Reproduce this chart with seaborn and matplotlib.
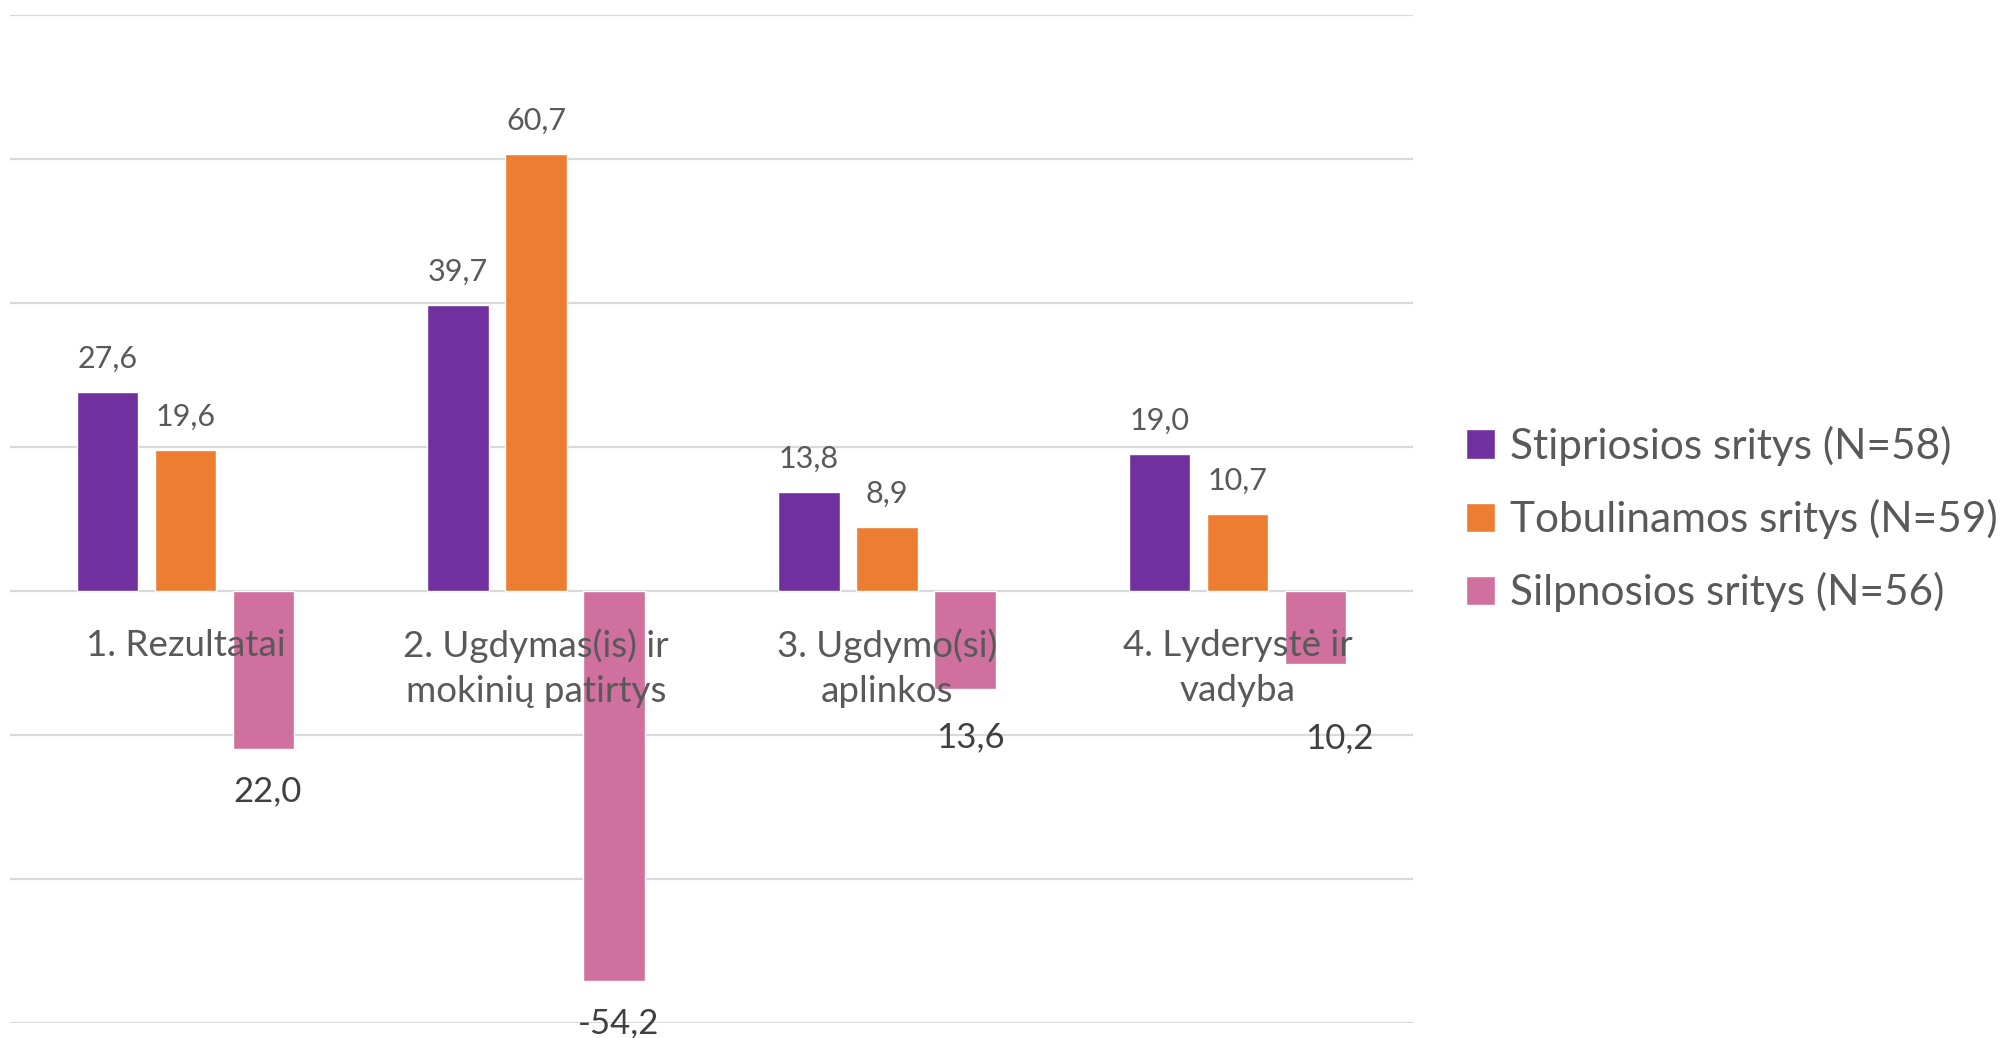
import pandas as pd
import numpy as np
import seaborn as sns
import matplotlib.pyplot as plt

# data
categories = ['1. Rezultatai', '2. Ugdymas(is) ir\nmokinių patirtys',
              '3. Ugdymo(si)\naplinkos', '4. Lyderystė ir\nvadyba']
series = ['Stipriosios sritys (N=58)', 'Tobulinamos sritys (N=59)', 'Silpnosios sritys (N=56)']
stiprios = [27.6, 39.7, 13.8, 19.0]
tobulinamos = [19.6, 60.7, 8.9, 10.7]
silpnos = [-22.0, -54.2, -13.6, -10.2]
label_texts = [
    ['27,6', '39,7', '13,8', '19,0'],
    ['19,6', '60,7', '8,9', '10,7'],
    ['22,0', '-54,2', '13,6', '10,2'],
]

colors = ['#7030A0', '#ED7D31', '#D0709E']
text_color = '#595959'

# label nudges in points (x, y) - the original labels were moved by hand
neg_offsets = [(3, -30), (3, -30), (4, -35), (17, -53)]

df = pd.DataFrame({
    'category': np.repeat(categories, 3),
    'series': series * len(categories),
    'value': [v for trio in zip(stiprios, tobulinamos, silpnos) for v in trio],
})

sns.set_style('white')
plt.rcParams['font.family'] = ['Lato', 'DejaVu Sans']

fig = plt.figure(figsize=(20, 10.38), dpi=100)
ax = fig.add_axes([0.005, 0.01445, 0.7015, 0.9711])

sns.barplot(data=df, x='category', y='value', hue='series', hue_order=series,
            order=categories, palette=colors, saturation=1, width=0.667, gap=0.21,
            errorbar=None, ax=ax, zorder=2)

ax.set_ylim(-60, 80)
ax.set_xlim(-0.5, len(categories) - 0.5)
for y in range(-60, 81, 20):
    ax.axhline(y, color='#D9D9D9', lw=1.6, zorder=0)

# data labels
for si, cont in enumerate(ax.containers):
    for ci, bar in enumerate(cont):
        h = bar.get_height()
        x = bar.get_x() + bar.get_width() / 2
        if h >= 0:
            ax.annotate(label_texts[si][ci], (x, h), xytext=(0, 24), textcoords='offset points',
                        ha='center', va='center', fontsize=22, color=text_color, zorder=5)
        else:
            dx, dy = neg_offsets[ci]
            ax.annotate(label_texts[si][ci], (x, h), xytext=(dx, dy), textcoords='offset points',
                        ha='center', va='center', fontsize=25, color='#404040', zorder=5)

# category labels just under the zero line, drawn over the bars
for i, cat in enumerate(categories):
    ax.annotate(cat, (i, 0), xytext=(0, -27), textcoords='offset points', ha='center', va='top',
                fontsize=26.5, color=text_color, linespacing=1.45, zorder=6)

ax.set_xticks([])
ax.set_yticks([])
ax.set_xlabel('')
ax.set_ylabel('')
sns.despine(ax=ax, left=True, bottom=True)

handles, labels = ax.get_legend_handles_labels()
ax.get_legend().remove()
fig.legend(handles, labels, loc='center left', bbox_to_anchor=(0.714, 0.5), frameon=False,
           fontsize=30.5, labelcolor=text_color, handlelength=0.68, handleheight=0.68,
           handletextpad=0.35, labelspacing=0.78)

fig.savefig('out.png', dpi=100)
